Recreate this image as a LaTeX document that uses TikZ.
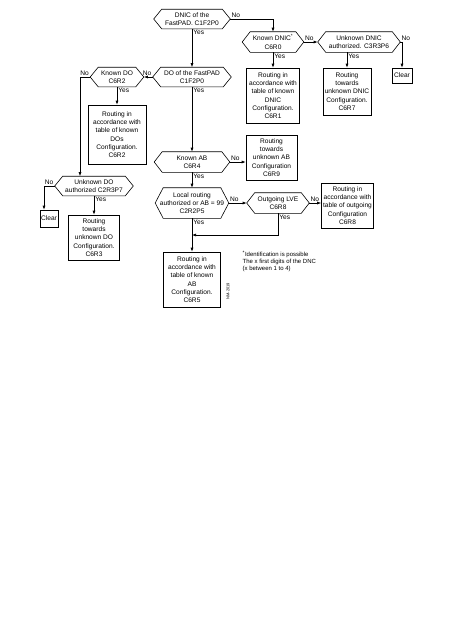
\documentclass[tikz,border=0pt]{standalone}
\usepackage{fontspec}
\setmainfont{Liberation Sans}
\usetikzlibrary{arrows.meta}

\begin{document}
\begin{tikzpicture}[x=1pt,y=-1pt,line width=0.6pt,>={Latex[length=4pt,width=3pt]},every node/.style={font=\fontsize{6.6}{8.3}\selectfont},dec/.style={align=center,inner sep=1pt},box/.style={draw,align=center,inner sep=1pt},yn/.style={inner sep=1pt},note/.style={font=\fontsize{6}{7}\selectfont,align=left,anchor=north west}]
\def\hx{8pt};
\useasboundingbox (0,0) rectangle (468,625);

% decisions
\node[dec,minimum width=76,minimum height=19] (dnic) at (192,19) {DNIC of the\\FastPAD. C1F2P0};
\node[dec,minimum width=61,minimum height=20] (kdnic) at (273,42) {Known DNIC\textsuperscript{*}\\C6R0};
\node[dec,minimum width=82,minimum height=20] (udnic) at (359,42) {Unknown DNIC\\authorized. C3R3P6};
\node[dec,minimum width=78,minimum height=19] (do) at (192,77) {DO of the FastPAD\\C1F2P0};
\node[dec,minimum width=53,minimum height=19] (kdo) at (117,77) {Known DO\\C6R2};
\node[dec,minimum width=78,minimum height=19] (udo) at (94,186) {Unknown DO\\authorized C2R3P7};
\node[dec,minimum width=75,minimum height=20] (kab) at (192,162) {Known AB\\C6R4};
\node[dec,minimum width=73,minimum height=30] (lroute) at (192,203) {Local routing\\authorized or AB = 99\\C2R2P5};
\node[dec,minimum width=62,minimum height=20] (olve) at (278,203) {Outgoing LVE\\C6R8};
\foreach \n in {dnic,kdnic,udnic,do,kdo,udo,kab,lroute,olve}
  \draw ([xshift=\hx]\n.north west) -- ([xshift=-\hx]\n.north east) -- (\n.east) -- ([xshift=-\hx]\n.south east) -- ([xshift=\hx]\n.south west) -- (\n.west) -- cycle;

% results
\node[box,minimum width=53,minimum height=55] (bkdnic) at (273,95.5) {Routing in\\accordance with\\table of known\\DNIC\\Configuration.\\C6R1};
\node[box,minimum width=48,minimum height=47] (budnic) at (347,91.5) {Routing\\towards\\unknown DNIC\\Configuration.\\C6R7};
\node[box,minimum width=20,minimum height=15] (clr1) at (402,75.5) {Clear};
\node[box,minimum width=58,minimum height=59] (bkdo) at (117,134.5) {Routing in\\accordance with\\table of known\\DOs\\Configuration.\\C6R2};
\node[box,minimum width=18,minimum height=17] (clr2) at (49,218.5) {Clear};
\node[box,minimum width=51,minimum height=45] (budo) at (94,237.5) {Routing\\towards\\unknown DO\\Configuration.\\C6R3};
\node[box,minimum width=51,minimum height=45] (buab) at (271.5,157.5) {Routing\\towards\\unknown AB\\Configuration\\C6R9};
\node[box,minimum width=52,minimum height=45] (bout) at (347.5,205.5) {Routing in\\accordance with\\table of outgoing\\Configuration\\C6R8};
\node[box,minimum width=57,minimum height=55] (bkab) at (192,279.5) {Routing in\\accordance with\\table of known\\AB\\Configuration.\\C6R5};

% links
\draw[->] (dnic.east) node[yn,above right]{No} -| (kdnic.north);
\draw[->] (dnic.south) node[yn,below right]{Yes} -- (do.north);
\draw[->] (kdnic.east) node[yn,above right]{No} -- (udnic.west);
\draw[->] (udnic.east) node[yn,above right]{No} -| (clr1.north);
\draw[->] (kdnic.south) node[yn,below right]{Yes} -- (bkdnic.north);
\draw[->] (budnic.north |- udnic.south) node[yn,below right]{Yes} -- (budnic.north);

\draw[->] (do.west) node[yn,above left]{No} -- (kdo.east);
\coordinate (kdoturn) at (80,77);
\draw[->] (kdo.west) node[yn,above left]{No} -- (kdoturn) -- (kdoturn |- udo.north);
\draw[->] (kdo.south) node[yn,below right]{Yes} -- (bkdo.north);
\draw[->] (udo.west) node[yn,above left]{No} -| ([xshift=-5pt]clr2.north);
\draw[->] (udo.south) node[yn,below right]{Yes} -- (budo.north);

\draw[->] (do.south) node[yn,below right]{Yes} -- (kab.north);
\draw[->] (kab.east) node[yn,above right]{No} -- (kab.east -| buab.west);
\draw[->] (kab.south) node[yn,below right]{Yes} -- (lroute.north);
\draw[->] (lroute.east) node[yn,above right]{No} -- (olve.west);
\draw[->] (olve.east) node[yn,above right]{No} -- (olve.east -| bout.west);
\coordinate (merge) at (192,235);
\draw[->] (olve.south) node[yn,below right]{Yes} |- (merge);
\draw[->] (lroute.south) node[yn,below right]{Yes} -- (bkab.north);

\node[note] (fn) at (239,247) {\textsuperscript{*}Identification is possible\\The x first digits of the DNC\\(x between 1 to 4)};
\node[rotate=90,font=\fontsize{4}{5}\selectfont] (fig) at (228,291) {NM-2019};
\end{tikzpicture}
\end{document}
